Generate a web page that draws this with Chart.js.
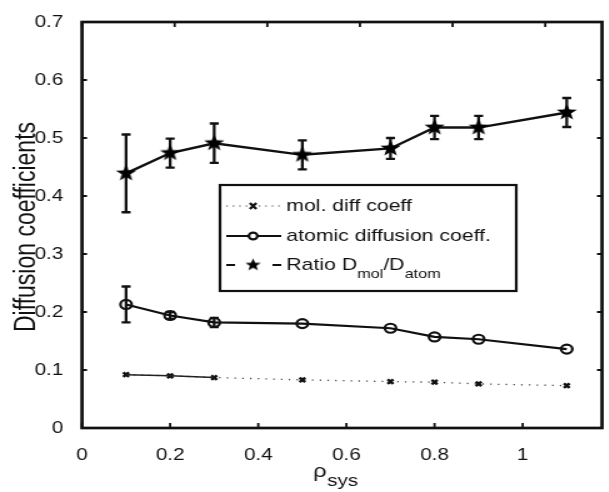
<!DOCTYPE html>
<html><head><meta charset="utf-8">
<script src="https://cdn.jsdelivr.net/npm/chart.js@4/dist/chart.umd.min.js"></script>
<style>html,body{margin:0;padding:0;overflow:hidden;background:#fff;width:609px;height:492px}
#wrap{transform:scaleX(1.25);transform-origin:0 0;width:493px;height:492px}canvas{display:block}</style>
</head><body><div id="wrap"><canvas id="c" width="493" height="492"></canvas></div>
<script>
// ---- data ----
const rho = [0.1, 0.2, 0.3, 0.5, 0.7, 0.8, 0.9, 1.1];
const molDiff = [0.092, 0.090, 0.087, 0.083, 0.080, 0.079, 0.076, 0.073];
const atomDiff = [0.213, 0.194, 0.182, 0.180, 0.172, 0.157, 0.153, 0.136];
const atomErr = [0.031, 0.006, 0.008, 0, 0, 0, 0, 0];
const ratio = [0.439, 0.474, 0.491, 0.471, 0.482, 0.518, 0.518, 0.544];
const ratioErr = [0.067, 0.025, 0.034, 0.025, 0.018, 0.020, 0.020, 0.025];
const xTickValues = [0, 0.2, 0.4, 0.6, 0.8, 1];
const yTickValues = [0, 0.1, 0.2, 0.3, 0.4, 0.5, 0.6, 0.7];
const legendLabels = ['mol. diff coeff', 'atomic diffusion coeff.', 'Ratio D|mol|/D|atom'];
const xTitle = ['ρ', 'sys'];
const yTitle = 'Diffusion coefficients';

const FONT = '"Liberation Sans", Arial, Helvetica, sans-serif';

function starCanvas(R) {
  const s = Math.ceil(R * 2 + 2);
  const c = document.createElement('canvas');
  c.width = c.height = s;
  const g = c.getContext('2d');
  g.fillStyle = '#000';
  g.beginPath();
  for (let i = 0; i < 10; i++) {
    const r = i % 2 ? R * 0.42 : R;
    const a = -Math.PI / 2 + i * Math.PI / 5;
    g.lineTo(s / 2 + r * Math.cos(a), s / 2 + r * Math.sin(a));
  }
  g.closePath();
  g.fill();
  return c;
}
const starBig = starCanvas(8.5);
const starSmall = starCanvas(6.5);

const pts = (ys, n) => rho.slice(0, n || rho.length).map((x, i) => ({ x, y: ys[i] }));
const fmt = v => String(Number(v.toFixed(1)));

function drawErr(ctx, xs, ys, ys2, err) {
  ctx.save();
  ctx.strokeStyle = '#111';
  ctx.lineWidth = 2.3;
  rho.forEach((x, i) => {
    if (!err[i]) return;
    const px = xs.getPixelForValue(x);
    const t = ys2.getPixelForValue(ys[i] + err[i]);
    const b = ys2.getPixelForValue(ys[i] - err[i]);
    ctx.beginPath();
    ctx.moveTo(px, t); ctx.lineTo(px, b);
    ctx.moveTo(px - 3.6, t); ctx.lineTo(px + 3.6, t);
    ctx.moveTo(px - 3.6, b); ctx.lineTo(px + 3.6, b);
    ctx.stroke();
  });
  ctx.restore();
}

const decor = {
  id: 'decor',
  beforeDatasetsDraw(chart) {
    const { ctx, scales } = chart;
    drawErr(ctx, scales.x, ratio, scales.y, ratioErr);
    drawErr(ctx, scales.x, atomDiff, scales.y, atomErr);
  },
  afterDraw(chart) {
    const { ctx, chartArea: a, scales } = chart;
    ctx.save();
    ctx.strokeStyle = '#111';
    // ticks
    ctx.lineWidth = 2;
    ctx.beginPath();
    yTickValues.forEach(v => {
      const y = scales.y.getPixelForValue(v);
      ctx.moveTo(a.left, y); ctx.lineTo(a.left + 4, y);
      ctx.moveTo(a.right, y); ctx.lineTo(a.right - 4, y);
    });
    ctx.stroke();
    ctx.lineWidth = 1.8;
    ctx.beginPath();
    xTickValues.forEach(v => {
      const x = scales.x.getPixelForValue(v);
      ctx.moveTo(x, a.bottom); ctx.lineTo(x, a.bottom - 5);
      const x2 = scales.x2.getPixelForValue(v);
      ctx.moveTo(x2, a.top); ctx.lineTo(x2, a.top + 5);
    });
    ctx.stroke();
    // frame
    ctx.lineWidth = 2.7;
    ctx.strokeRect(a.left, a.top, a.right - a.left, a.bottom - a.top);

    // legend
    const L = 176, T = 185, R = 413, B = 291;
    ctx.fillStyle = '#fff';
    ctx.fillRect(L, T, R - L, B - T);
    ctx.lineWidth = 2.2;
    ctx.strokeRect(L, T, R - L, B - T);
    const rows = [206, 236, 265];
    const x0 = 181, x1 = 225, xm = 202.5, xt = 229;
    // row 1 dotted + x
    ctx.save();
    ctx.lineWidth = 1.2; ctx.strokeStyle = '#444';
    ctx.setLineDash([1.2, 4]);
    ctx.beginPath(); ctx.moveTo(x0, rows[0]); ctx.lineTo(x1, rows[0]); ctx.stroke();
    ctx.restore();
    ctx.save();
    ctx.lineWidth = 2.2; ctx.strokeStyle = '#111';
    ctx.beginPath();
    ctx.moveTo(xm - 2.6, rows[0] - 3); ctx.lineTo(xm + 2.6, rows[0] + 3);
    ctx.moveTo(xm - 2.6, rows[0] + 3); ctx.lineTo(xm + 2.6, rows[0] - 3);
    ctx.stroke();
    // row 2 solid + circle
    ctx.lineWidth = 2.2;
    ctx.beginPath(); ctx.moveTo(x0, rows[1]); ctx.lineTo(x1, rows[1]); ctx.stroke();
    ctx.fillStyle = '#fff';
    ctx.beginPath(); ctx.arc(xm, rows[1], 3.4, 0, Math.PI * 2); ctx.fill(); ctx.stroke();
    // row 3 dashes + star
    ctx.beginPath();
    ctx.moveTo(x0, rows[2]); ctx.lineTo(x0 + 7, rows[2]);
    ctx.moveTo(x1 - 7, rows[2]); ctx.lineTo(x1, rows[2]);
    ctx.stroke();
    ctx.drawImage(starSmall, xm - starSmall.width / 2, rows[2] - starSmall.height / 2);
    ctx.restore();

    ctx.fillStyle = '#111';
    ctx.textBaseline = 'middle';
    ctx.textAlign = 'left';
    legendLabels.forEach((lab, i) => {
      const parts = lab.split('|');
      let x = xt;
      parts.forEach((p, j) => {
        const sub = j % 2 === 1;
        ctx.font = (sub ? '13px ' : '17px ') + FONT;
        ctx.fillText(p, x, rows[i] + (sub ? 9 : 0));
        x += ctx.measureText(p).width;
      });
    });

    // x title
    ctx.textBaseline = 'alphabetic';
    ctx.font = '19px ' + FONT;
    ctx.fillText(xTitle[0], 250.5, 477);
    const w = ctx.measureText(xTitle[0]).width;
    ctx.font = '16.5px ' + FONT;
    ctx.fillText(xTitle[1], 250.5 + w + 0.5, 486);

    // y title
    ctx.save();
    ctx.translate(28, 227);
    ctx.rotate(-Math.PI / 2);
    ctx.textAlign = 'center';
    ctx.font = '23px ' + FONT;
    ctx.fillText(yTitle, 0, 0);
    ctx.restore();
    ctx.restore();
  }
};

new Chart(document.getElementById('c'), {
  type: 'line',
  data: {
    datasets: [
      { data: pts(molDiff, 3), borderColor: '#222', borderWidth: 1.5, pointRadius: 0, fill: false },
      { data: pts(molDiff), borderColor: '#444', borderWidth: 1.3, borderDash: [1.2, 5],
        pointStyle: 'crossRot', pointRadius: 3.2, pointBorderWidth: 2.4, pointBorderColor: '#111', fill: false },
      { data: pts(atomDiff), borderColor: '#111', borderWidth: 2.2,
        pointStyle: 'circle', pointRadius: 4.5, pointBorderWidth: 2.2, pointBorderColor: '#111', pointBackgroundColor: 'rgba(255,255,255,0)', fill: false },
      { data: pts(ratio), borderColor: '#111', borderWidth: 2.4,
        pointStyle: starBig, pointRadius: 9, fill: false }
    ]
  },
  options: {
    responsive: false,
    animation: false,
    events: [],
    layout: { padding: { top: 22, right: 4.2, left: 0, bottom: 0 } },
    plugins: { legend: { display: false }, tooltip: { enabled: false } },
    scales: {
      x: {
        type: 'linear', min: 0, max: 1.18, position: 'bottom',
        grid: { display: false }, border: { display: false },
        afterFit(s) { s.height = 64; },
        afterBuildTicks(s) { s.ticks = xTickValues.map(v => ({ value: v })); },
        ticks: { color: '#111', padding: 10, font: { size: 16.5, family: FONT }, callback: fmt, maxRotation: 0, autoSkip: false }
      },
      x2: {
        type: 'linear', min: 0, max: 1.1225, position: 'top',
        grid: { display: false }, border: { display: false },
        ticks: { display: false },
        afterFit(s) { s.height = 0; }
      },
      y: {
        type: 'linear', min: 0, max: 0.7,
        grid: { display: false }, border: { display: false },
        afterFit(s) { s.width = 65.6; },
        afterBuildTicks(s) { s.ticks = yTickValues.map(v => ({ value: v })); },
        ticks: { color: '#111', padding: 7, font: { size: 16.5, family: FONT }, callback: fmt, autoSkip: false }
      }
    }
  },
  plugins: [decor]
});
</script>
</body></html>
